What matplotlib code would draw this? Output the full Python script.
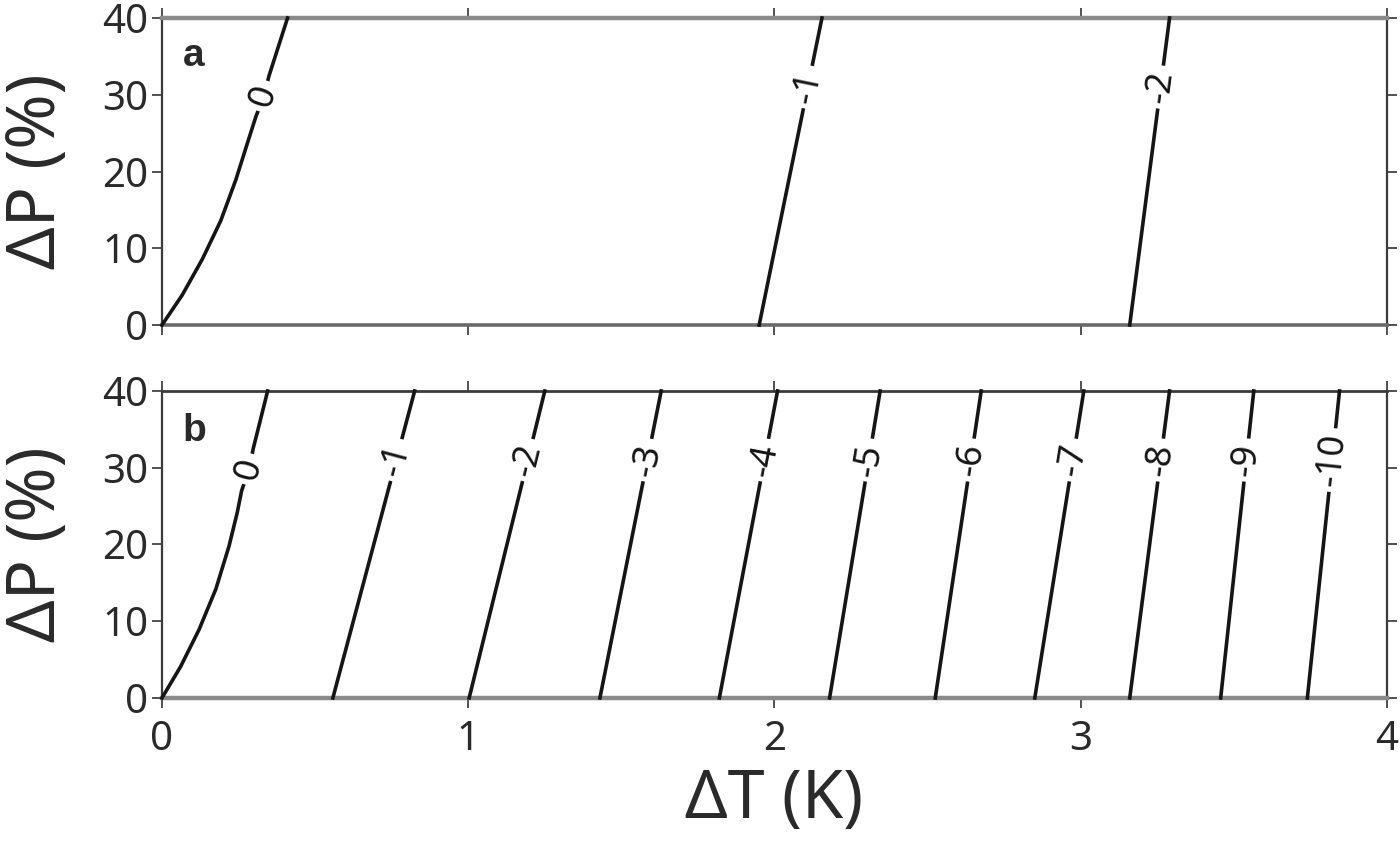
import math

import matplotlib

matplotlib.use("Agg")
import matplotlib.pyplot as plt
import numpy as np

plt.rcParams["font.family"] = ["Noto Sans", "DejaVu Sans"]

# panel a: 0 contour is curved, others straight between y=0 and y=40
A_ZERO_X = [0.0, 0.066, 0.132, 0.192, 0.241, 0.279, 0.307, 0.334, 0.349, 0.41]
A_ZERO_Y = [0.0, 3.9, 8.6, 13.6, 18.9, 23.7, 27.2, 29.9, 32.4, 40.0]
A_LEVELS = [-1, -2]
A_X_BOTTOM = [1.95, 3.16]
A_X_TOP = [2.155, 3.29]

# panel b
B_ZERO_X = [0.0, 0.061, 0.121, 0.176, 0.219, 0.246, 0.26, 0.284, 0.298, 0.345]
B_ZERO_Y = [0.0, 4.1, 8.9, 14.2, 19.8, 24.2, 27.0, 29.7, 32.5, 40.0]
B_LEVELS = [-1, -2, -3, -4, -5, -6, -7, -8, -9, -10]
B_X_BOTTOM = [0.558, 1.003, 1.43, 1.82, 2.18, 2.525, 2.85, 3.16, 3.457, 3.74]
B_X_TOP = [0.825, 1.25, 1.63, 2.01, 2.345, 2.675, 3.01, 3.29, 3.565, 3.845]

LABEL_Y = 31.0
ZERO_LABEL_Y = 29.8

X_TICKS = [0, 1, 2, 3, 4]
Y_TICKS = [0, 10, 20, 30, 40]

LINE_COLOR = "#151515"
TEXT_COLOR = "#2a2a2a"


def label_on_line(ax, xs, ys, y_label, text):
    x_label = float(np.interp(y_label, ys, xs))
    # local direction of the line in screen space
    y0, y1 = y_label - 2.5, y_label + 2.5
    p0 = ax.transData.transform((np.interp(y0, ys, xs), y0))
    p1 = ax.transData.transform((np.interp(y1, ys, xs), y1))
    angle = math.degrees(math.atan2(p1[1] - p0[1], p1[0] - p0[0]))
    ax.text(
        x_label,
        y_label,
        text,
        rotation=angle,
        rotation_mode="anchor",
        ha="center",
        va="center",
        fontsize=26,
        color=LINE_COLOR,
        bbox=dict(facecolor="white", edgecolor="none", pad=4.0),
        zorder=4,
    )


def draw_panel(ax, zero_x, zero_y, levels, x_bottom, x_top, letter, letter_y, show_xlabels):
    ax.set_xlim(0, 4)
    ax.set_ylim(0, 40)
    ax.plot(zero_x, zero_y, color=LINE_COLOR, lw=2.6, zorder=3, clip_on=False,
            solid_joinstyle="round")
    label_on_line(ax, zero_x, zero_y, ZERO_LABEL_Y, "0")
    for lev, xb, xt in zip(levels, x_bottom, x_top):
        ax.plot([xb, xt], [0, 40], color=LINE_COLOR, lw=2.6, zorder=3, clip_on=False)
        label_on_line(ax, [xb, xt], [0, 40], LABEL_Y, f"-{abs(lev)}")

    ax.set_xticks(X_TICKS)
    ax.set_yticks(Y_TICKS)
    ax.tick_params(
        direction="out", length=7, width=1.3, colors="#444444", labelcolor=TEXT_COLOR,
        labelsize=29, top=True, right=True, pad=3,
    )
    ax.tick_params(axis="x", pad=9)
    if not show_xlabels:
        ax.tick_params(labelbottom=False)
    ax.set_ylabel("ΔP (%)", fontsize=48, color=TEXT_COLOR, labelpad=22)
    for side in ("left", "right"):
        ax.spines[side].set_color("#3a3a3a")
        ax.spines[side].set_linewidth(1.6)
    ax.text(0.017, letter_y, letter, transform=ax.transAxes, ha="left", va="center",
            fontsize=28, fontweight="bold", color=TEXT_COLOR, family="Liberation Sans")


fig = plt.figure(figsize=(14, 8.52), dpi=100)
ax_a = fig.add_axes([0.1157, 0.6185, 0.875, 0.3604])
ax_b = fig.add_axes([0.1157, 0.1808, 0.875, 0.3603])

draw_panel(ax_a, A_ZERO_X, A_ZERO_Y, A_LEVELS, A_X_BOTTOM, A_X_TOP, "a", 0.875, False)
draw_panel(ax_b, B_ZERO_X, B_ZERO_Y, B_LEVELS, B_X_BOTTOM, B_X_TOP, "b", 0.87, True)

ax_a.spines["top"].set_color("#8a8a8a")
ax_a.spines["top"].set_linewidth(3.2)
ax_a.spines["bottom"].set_color("#6a6a6a")
ax_a.spines["bottom"].set_linewidth(2.6)
ax_b.spines["top"].set_color("#3a3a3a")
ax_b.spines["top"].set_linewidth(2.0)
ax_b.spines["bottom"].set_color("#8a8a8a")
ax_b.spines["bottom"].set_linewidth(3.2)

ax_b.set_xlabel("ΔT (K)", fontsize=48, color=TEXT_COLOR, labelpad=4)

fig.savefig("out.png", dpi=100)
